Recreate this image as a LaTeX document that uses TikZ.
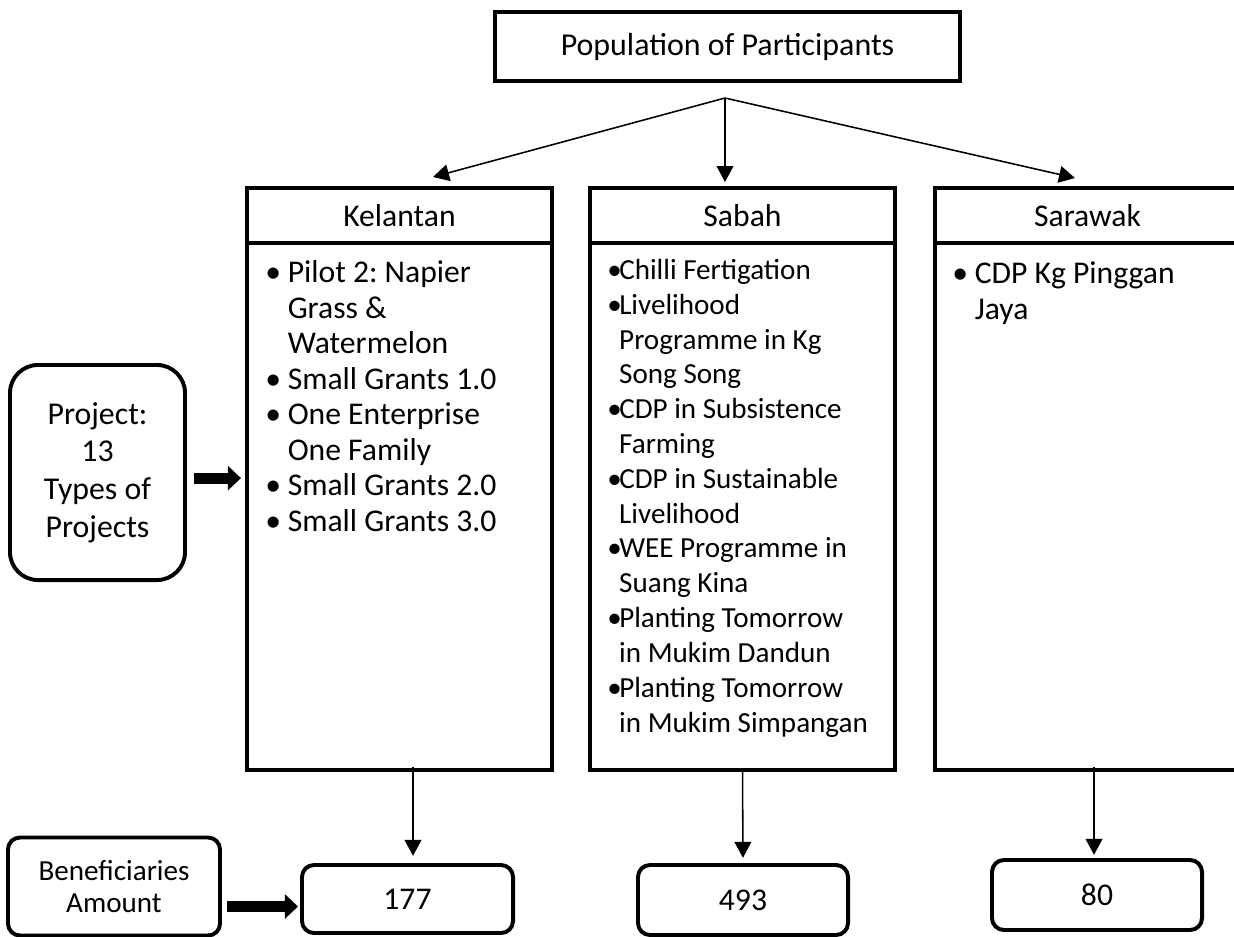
\documentclass[tikz,border=0pt]{standalone}
\usepackage{fontspec}
\setmainfont{Carlito}
\usetikzlibrary{arrows.meta}
\frenchspacing
% bullet in a box of given width
\newcommand{\bul}[1]{\makebox[#1][l]{\textbullet}}

\begin{document}
\begin{tikzpicture}[x=0.025cm,y=-0.025cm,
    box/.style={draw,line width=2.8pt,inner sep=0pt},
    head/.style={box,minimum width=7.625cm,minimum height=1.375cm,font=\fontsize{22.5}{26}\selectfont},
    body/.style={box,minimum width=7.625cm,minimum height=13.175cm},
    roundbox/.style={box,rounded corners=0.3cm},
    listtext/.style={align=left,inner sep=0pt,anchor=base west,font=\fontsize{22.5}{25.2}\selectfont},
    link/.style={line width=1.1pt,-{Triangle[length=0.4cm,width=0.42cm]}},
    fat/.style={line width=7.8pt,-{Triangle[length=0.33cm,width=0.6cm]}}]
  \useasboundingbox (0,0) rectangle (1234,936);
  % Top box and the fork
  \node[box,minimum width=11.625cm,minimum height=1.725cm,font=\fontsize{22.7}{26}\selectfont]
        (pop)   at (727.5,46.5) {Population of Participants};
  \coordinate (fork)  at (725,98);
  \coordinate (kelin) at (433,177);
  \coordinate (sabin) at (725,182);
  \coordinate (sarin) at (1075,178);
  % The three states
  \node[head]   (kelhead)   at (399.5,215.5) {Kelantan};
  \node[body]   (kelbody)   at (399.5,506.5) {};
  \node[head]   (sabhead)   at (742.5,215.5) {Sabah};
  \node[body]   (sabbody)   at (742.5,506.5) {};
  \node[head]   (sarhead)   at (1087.5,215.5) {Sarawak};
  \node[body]   (sarbody)   at (1087.5,506.5) {};
  \draw[link] (fork) -- (kelin);
  \draw[link] (fork) -- (sabin);
  \draw[link] (fork) -- (sarin);
  % Project lists (placed by the baseline of their last line)
  \node[listtext] (kellist) at (265,531) {\bul{16pt}Pilot 2: Napier\\\hspace*{16pt}Grass \&\\\hspace*{16pt}Watermelon\\
        \bul{16pt}Small Grants 1.0\\\bul{16pt}One Enterprise\\\hspace*{16pt}One Family\\
        \bul{16pt}Small Grants 2.0\\\bul{16pt}Small Grants 3.0};
  \node[listtext,font=\fontsize{20.7}{24.75}\selectfont]
        (sablist) at (607,732) {\bul{8.5pt}Chilli Fertigation\\\bul{8.5pt}Livelihood\\\hspace*{8.5pt}Programme in Kg\\
        \hspace*{8.5pt}Song Song\\\bul{8.5pt}CDP in Subsistence\\\hspace*{8.5pt}Farming\\
        \bul{8.5pt}CDP in Sustainable\\\hspace*{8.5pt}Livelihood\\\bul{8.5pt}WEE Programme in\\
        \hspace*{8.5pt}Suang Kina\\\bul{8.5pt}Planting Tomorrow\\\hspace*{8.5pt}in Mukim Dandun\\
        \bul{8.5pt}Planting Tomorrow\\\hspace*{8.5pt}in Mukim Simpangan};
  \node[listtext] (sarlist) at (952,319) {\bul{16pt}CDP Kg Pinggan\\\hspace*{16pt}Jaya};
  % Left-hand side boxes
  \node[roundbox,rounded corners=0.7cm,minimum width=4.375cm,minimum height=5.375cm,
        align=center,font=\fontsize{22.6}{26.7}\selectfont]
        (proj)  at (97.5,472.5) {Project:\\13\\Types of\\Projects};
  \node[roundbox,minimum width=5.3cm,minimum height=2.45cm,align=center,
        font=\fontsize{20.7}{22.8}\selectfont]
        (bene)  at (114,886.5) {Beneficiaries\\Amount};
  % Beneficiaries amounts
  \node[roundbox,minimum width=5.275cm,minimum height=1.7cm,font=\fontsize{22.5}{26}\selectfont]
        (n177)  at (407.5,899) {177};
  \node[roundbox,minimum width=5.25cm,minimum height=1.75cm,font=\fontsize{22.5}{26}\selectfont]
        (n493)  at (743,900) {493};
  \node[roundbox,minimum width=5.25cm,minimum height=1.75cm,font=\fontsize{22.5}{26}\selectfont]
        (n80)   at (1097,895) {80};
  \draw[link,shorten >=0.18cm] (kelbody.south -| 413,0) ++(0,-5) -- (n177.north -| 413,0);
  \draw[link,shorten >=0.13cm] (sabbody.south) ++(0,-2) -- (n493.north);
  \draw[link,shorten >=0.08cm] (sarbody.south -| 1094,0) ++(0,-5) -- (n80.north -| 1094,0);
  \draw[fat,shorten <=0.18cm,shorten >=0.1cm] ([yshift=-0.14cm]proj.east) -- ([yshift=-0.14cm]proj.east -| kelbody.west);
  \draw[fat,shorten <=0.12cm,shorten >=0.05cm] ([yshift=-0.5cm]bene.east) -- ([yshift=-0.5cm]bene.east -| n177.west);
\end{tikzpicture}
\end{document}
